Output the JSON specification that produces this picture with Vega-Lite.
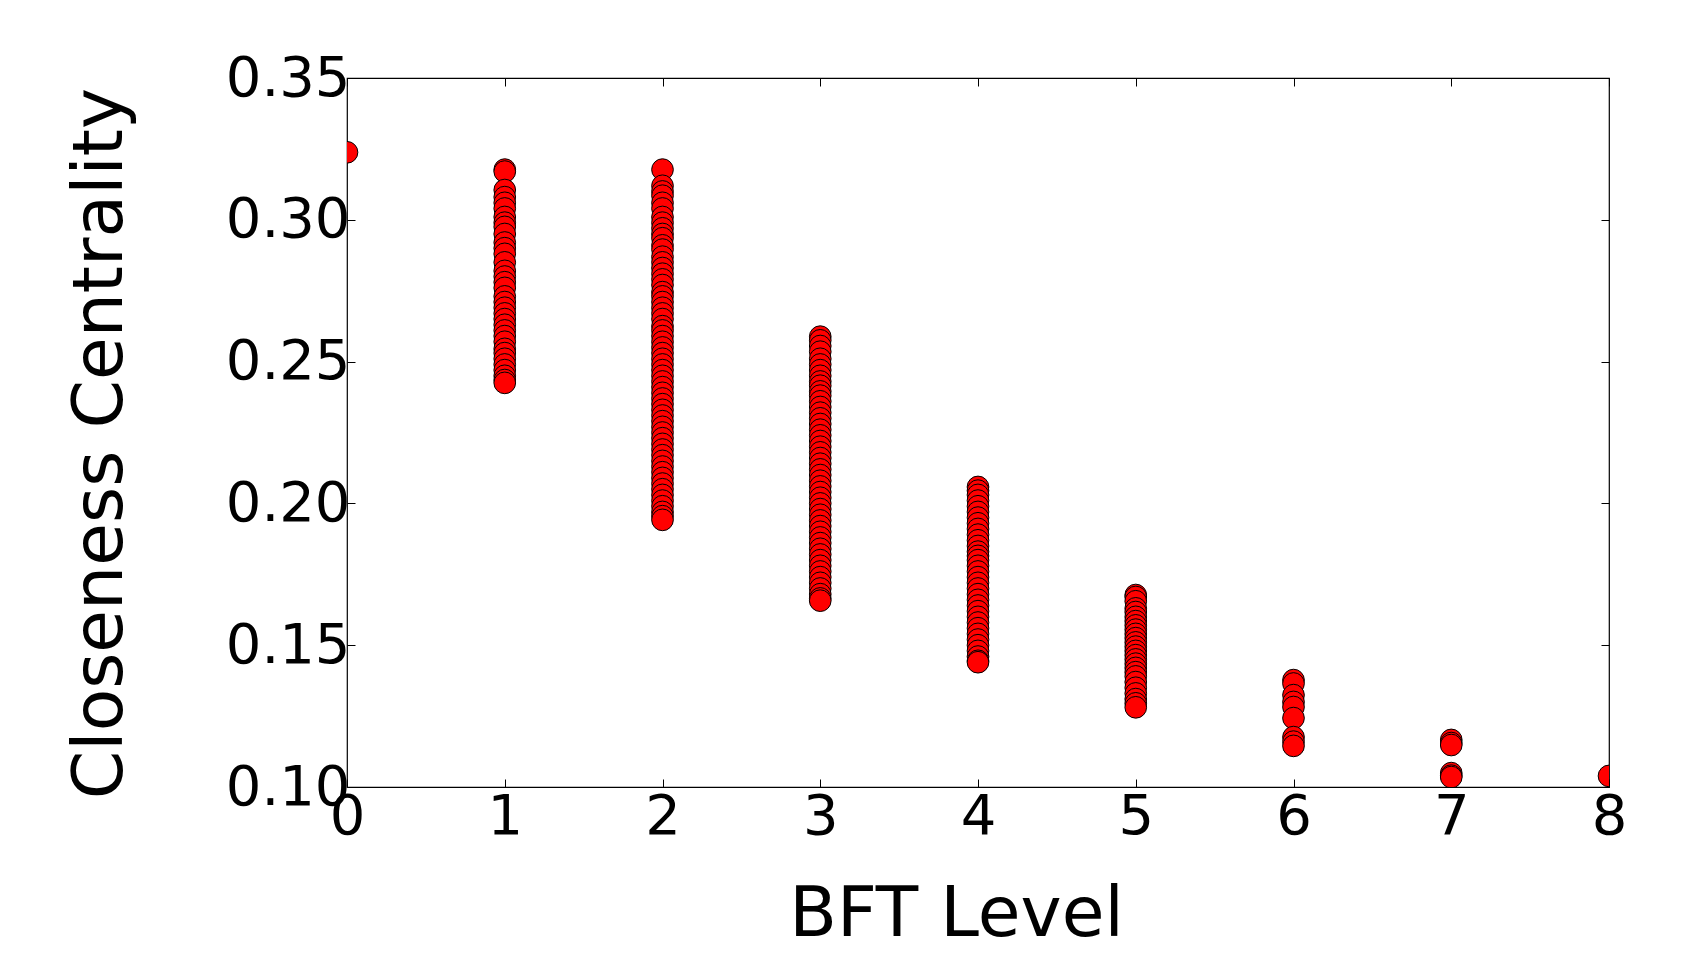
{
  "$schema": "https://vega.github.io/schema/vega-lite/v6.json",
  "width": 1262,
  "height": 709,
  "autosize": {"type": "none"},
  "padding": {"left": 347, "top": 78, "right": 81, "bottom": 191},
  "background": "white",
  "config": {
    "view": {"stroke": "black", "strokeWidth": 1.2},
    "font": "DejaVu Sans",
    "axis": {"grid": false, "domain": false, "labelFont": "DejaVu Sans", "titleFont": "DejaVu Sans", "labelColor": "black", "titleColor": "black", "tickColor": "black", "tickWidth": 1, "titleFontWeight": "normal"}
  },
  "data": {"values": [
    {"level":0,"cc":0.3238},
    {"level":1,"cc":0.3177},{"level":1,"cc":0.3170},{"level":1,"cc":0.3105},{"level":1,"cc":0.3080},{"level":1,"cc":0.3060},{"level":1,"cc":0.3040},{"level":1,"cc":0.3010},{"level":1,"cc":0.2990},{"level":1,"cc":0.2975},{"level":1,"cc":0.2950},{"level":1,"cc":0.2920},{"level":1,"cc":0.2900},{"level":1,"cc":0.2880},{"level":1,"cc":0.2850},{"level":1,"cc":0.2820},{"level":1,"cc":0.2800},{"level":1,"cc":0.2780},{"level":1,"cc":0.2760},{"level":1,"cc":0.2730},{"level":1,"cc":0.2710},{"level":1,"cc":0.2690},{"level":1,"cc":0.2670},{"level":1,"cc":0.2650},{"level":1,"cc":0.2630},{"level":1,"cc":0.2610},{"level":1,"cc":0.2590},{"level":1,"cc":0.2570},{"level":1,"cc":0.2545},{"level":1,"cc":0.2530},{"level":1,"cc":0.2510},{"level":1,"cc":0.2490},{"level":1,"cc":0.2470},{"level":1,"cc":0.2450},{"level":1,"cc":0.2435},{"level":1,"cc":0.2425},
    {"level":2,"cc":0.3177},{"level":2,"cc":0.3120},{"level":2,"cc":0.3100},{"level":2,"cc":0.3085},{"level":2,"cc":0.3060},{"level":2,"cc":0.3040},{"level":2,"cc":0.3010},{"level":2,"cc":0.2990},{"level":2,"cc":0.2970},{"level":2,"cc":0.2950},{"level":2,"cc":0.2935},{"level":2,"cc":0.2910},{"level":2,"cc":0.2895},{"level":2,"cc":0.2870},{"level":2,"cc":0.2850},{"level":2,"cc":0.2830},{"level":2,"cc":0.2810},{"level":2,"cc":0.2790},{"level":2,"cc":0.2770},{"level":2,"cc":0.2745},{"level":2,"cc":0.2730},{"level":2,"cc":0.2710},{"level":2,"cc":0.2690},{"level":2,"cc":0.2670},{"level":2,"cc":0.2650},{"level":2,"cc":0.2625},{"level":2,"cc":0.2610},{"level":2,"cc":0.2590},{"level":2,"cc":0.2570},{"level":2,"cc":0.2550},{"level":2,"cc":0.2530},{"level":2,"cc":0.2510},{"level":2,"cc":0.2490},{"level":2,"cc":0.2470},{"level":2,"cc":0.2450},{"level":2,"cc":0.2430},{"level":2,"cc":0.2410},{"level":2,"cc":0.2390},{"level":2,"cc":0.2370},{"level":2,"cc":0.2350},{"level":2,"cc":0.2330},{"level":2,"cc":0.2310},{"level":2,"cc":0.2290},{"level":2,"cc":0.2270},{"level":2,"cc":0.2250},{"level":2,"cc":0.2230},{"level":2,"cc":0.2210},{"level":2,"cc":0.2190},{"level":2,"cc":0.2170},{"level":2,"cc":0.2150},{"level":2,"cc":0.2130},{"level":2,"cc":0.2110},{"level":2,"cc":0.2090},{"level":2,"cc":0.2070},{"level":2,"cc":0.2050},{"level":2,"cc":0.2030},{"level":2,"cc":0.2010},{"level":2,"cc":0.1990},{"level":2,"cc":0.1970},{"level":2,"cc":0.1955},{"level":2,"cc":0.1942},
    {"level":3,"cc":0.2588},{"level":3,"cc":0.2575},{"level":3,"cc":0.2555},{"level":3,"cc":0.2535},{"level":3,"cc":0.2510},{"level":3,"cc":0.2490},{"level":3,"cc":0.2470},{"level":3,"cc":0.2450},{"level":3,"cc":0.2430},{"level":3,"cc":0.2415},{"level":3,"cc":0.2395},{"level":3,"cc":0.2380},{"level":3,"cc":0.2360},{"level":3,"cc":0.2340},{"level":3,"cc":0.2320},{"level":3,"cc":0.2300},{"level":3,"cc":0.2280},{"level":3,"cc":0.2260},{"level":3,"cc":0.2240},{"level":3,"cc":0.2220},{"level":3,"cc":0.2200},{"level":3,"cc":0.2180},{"level":3,"cc":0.2160},{"level":3,"cc":0.2140},{"level":3,"cc":0.2120},{"level":3,"cc":0.2100},{"level":3,"cc":0.2080},{"level":3,"cc":0.2060},{"level":3,"cc":0.2040},{"level":3,"cc":0.2020},{"level":3,"cc":0.2000},{"level":3,"cc":0.1980},{"level":3,"cc":0.1960},{"level":3,"cc":0.1940},{"level":3,"cc":0.1920},{"level":3,"cc":0.1900},{"level":3,"cc":0.1880},{"level":3,"cc":0.1860},{"level":3,"cc":0.1840},{"level":3,"cc":0.1820},{"level":3,"cc":0.1800},{"level":3,"cc":0.1780},{"level":3,"cc":0.1760},{"level":3,"cc":0.1740},{"level":3,"cc":0.1720},{"level":3,"cc":0.1700},{"level":3,"cc":0.1680},{"level":3,"cc":0.1665},{"level":3,"cc":0.1657},
    {"level":4,"cc":0.2058},{"level":4,"cc":0.2045},{"level":4,"cc":0.2030},{"level":4,"cc":0.2010},{"level":4,"cc":0.1990},{"level":4,"cc":0.1970},{"level":4,"cc":0.1950},{"level":4,"cc":0.1930},{"level":4,"cc":0.1910},{"level":4,"cc":0.1890},{"level":4,"cc":0.1870},{"level":4,"cc":0.1850},{"level":4,"cc":0.1830},{"level":4,"cc":0.1815},{"level":4,"cc":0.1800},{"level":4,"cc":0.1780},{"level":4,"cc":0.1760},{"level":4,"cc":0.1740},{"level":4,"cc":0.1720},{"level":4,"cc":0.1700},{"level":4,"cc":0.1680},{"level":4,"cc":0.1660},{"level":4,"cc":0.1640},{"level":4,"cc":0.1620},{"level":4,"cc":0.1600},{"level":4,"cc":0.1580},{"level":4,"cc":0.1560},{"level":4,"cc":0.1540},{"level":4,"cc":0.1520},{"level":4,"cc":0.1500},{"level":4,"cc":0.1480},{"level":4,"cc":0.1460},{"level":4,"cc":0.1445},{"level":4,"cc":0.1440},
    {"level":5,"cc":0.1677},{"level":5,"cc":0.1670},{"level":5,"cc":0.1655},{"level":5,"cc":0.1630},{"level":5,"cc":0.1617},{"level":5,"cc":0.1600},{"level":5,"cc":0.1585},{"level":5,"cc":0.1570},{"level":5,"cc":0.1555},{"level":5,"cc":0.1540},{"level":5,"cc":0.1525},{"level":5,"cc":0.1510},{"level":5,"cc":0.1495},{"level":5,"cc":0.1480},{"level":5,"cc":0.1465},{"level":5,"cc":0.1450},{"level":5,"cc":0.1435},{"level":5,"cc":0.1420},{"level":5,"cc":0.1405},{"level":5,"cc":0.1390},{"level":5,"cc":0.1370},{"level":5,"cc":0.1350},{"level":5,"cc":0.1330},{"level":5,"cc":0.1310},{"level":5,"cc":0.1295},{"level":5,"cc":0.1281},
    {"level":6,"cc":0.1377},{"level":6,"cc":0.1365},{"level":6,"cc":0.1324},{"level":6,"cc":0.1300},{"level":6,"cc":0.1282},{"level":6,"cc":0.1243},{"level":6,"cc":0.1176},{"level":6,"cc":0.1160},{"level":6,"cc":0.1145},
    {"level":7,"cc":0.1166},{"level":7,"cc":0.1155},{"level":7,"cc":0.1148},{"level":7,"cc":0.1049},{"level":7,"cc":0.1040},{"level":7,"cc":0.1035},
    {"level":8,"cc":0.1039}
  ]},
  "layer": [
    {
      "mark": {"type": "point", "filled": true, "fill": "#ff0000", "stroke": "black", "strokeWidth": 1, "size": 470, "opacity": 1, "clip": true},
      "encoding": {
        "x": {"field": "level", "type": "quantitative", "scale": {"domain": [0, 8], "nice": false, "zero": false},
          "axis": {"orient": "bottom", "values": [0,1,2,3,4,5,6,7,8], "format": "d", "tickSize": -8, "labelFontSize": 56, "labelPadding": 10, "labelBaseline": "top", "labelFlush": false, "labelOverlap": false,
            "title": "BFT Level", "titleFontSize": 69.5, "titleX": 609, "titleY": 148, "titleAlign": "center", "titleBaseline": "alphabetic"}},
        "y": {"field": "cc", "type": "quantitative", "scale": {"domain": [0.1, 0.35], "nice": false, "zero": false},
          "axis": {"orient": "left", "values": [0.1,0.15,0.2,0.25,0.3,0.35], "format": ".2f", "tickSize": -8, "labelFontSize": 56, "labelPadding": 5, "labelBaseline": "middle", "labelFlush": false, "labelOverlap": false,
            "title": "Closeness Centrality", "titleFontSize": 69.5, "titleAngle": -90, "titleX": -226, "titleY": 365, "titleAlign": "center", "titleBaseline": "alphabetic"}}
      }
    },
    {
      "mark": {"type": "point", "opacity": 0},
      "encoding": {
        "x": {"field": "level", "type": "quantitative", "scale": {"domain": [0, 8], "nice": false, "zero": false},
          "axis": {"orient": "top", "values": [0,1,2,3,4,5,6,7,8], "tickSize": -8, "labels": false, "title": null}},
        "y": {"field": "cc", "type": "quantitative", "scale": {"domain": [0.1, 0.35], "nice": false, "zero": false},
          "axis": {"orient": "right", "values": [0.1,0.15,0.2,0.25,0.3,0.35], "tickSize": -8, "labels": false, "title": null}}
      }
    }
  ],
  "resolve": {"axis": {"x": "independent", "y": "independent"}}
}
